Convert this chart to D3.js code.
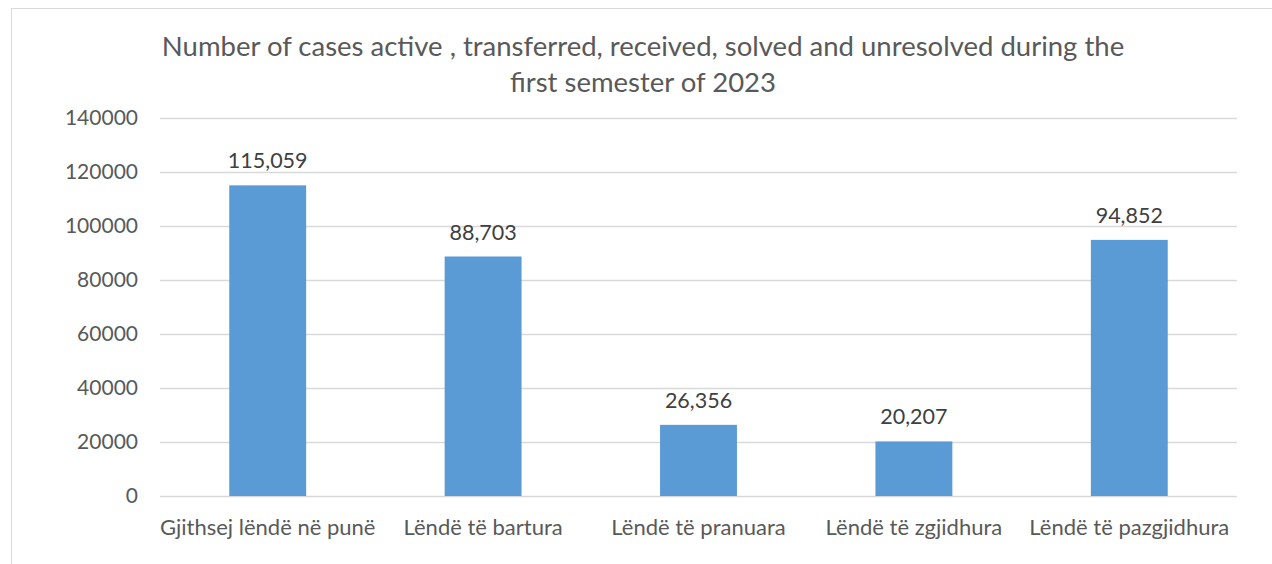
<!DOCTYPE html>
<html><head><meta charset="utf-8">
<script src="https://cdn.jsdelivr.net/npm/d3@7"></script>
<style>body{margin:0;background:#fff;} text{font-family:Lato,"Open Sans",sans-serif;}</style>
</head><body>
<svg id="c" width="1272" height="564"></svg>
<script>
const categories = ["Gjithsej lëndë në punë","Lëndë të bartura","Lëndë të pranuara","Lëndë të zgjidhura","Lëndë të pazgjidhura"];
const values = [115059, 88703, 26356, 20207, 94852];
const valueLabels = ["115,059","88,703","26,356","20,207","94,852"];
const yTicks = [0,20000,40000,60000,80000,100000,120000,140000];
const titleLines = ["Number of cases active , transferred, received, solved and unresolved during the","first semester of 2023"];

const svg = d3.select("#c");
const textColor = "#595959";
svg.append("rect").attr("x",11.5).attr("y",8.5).attr("width",1300).attr("height",600)
  .attr("fill","#fff").attr("stroke","#D9D9D9").attr("stroke-width",1);

const pLeft=160, pRight=1237, pTop=118, pBottom=496;
const x = d3.scaleBand().domain(categories).range([pLeft,pRight]).paddingInner(0.643).paddingOuter(0.3215);
const y = d3.scaleLinear().domain([0,140000]).range([pBottom,pTop]);

const yAxis = svg.append("g").attr("transform",`translate(${pLeft},0)`)
  .call(d3.axisLeft(y).tickValues(yTicks).tickSize(-(pRight-pLeft)).tickPadding(22).tickFormat(d3.format("d")));
yAxis.select(".domain").remove();
yAxis.selectAll("line").attr("stroke","#D9D9D9").attr("stroke-width",1.5);
yAxis.selectAll("text").attr("fill",textColor).attr("font-size",21).attr("font-family","Lato");

svg.selectAll("rect.bar").data(values).join("rect").attr("class","bar")
  .attr("x",(d,i)=>x(categories[i])).attr("width",x.bandwidth())
  .attr("y",d=>y(d)).attr("height",d=>pBottom-y(d)).attr("fill","#5B9BD5");

svg.selectAll("text.val").data(values).join("text").attr("class","val")
  .attr("x",(d,i)=>x(categories[i])+x.bandwidth()/2).attr("y",d=>y(d)-17)
  .attr("text-anchor","middle").attr("font-size",21.5).attr("fill","#404040")
  .text((d,i)=>valueLabels[i]);

const xAxis = svg.append("g").attr("transform",`translate(0,${pBottom})`)
  .call(d3.axisBottom(x).tickSize(0).tickPadding(23));
xAxis.select(".domain").remove();
xAxis.selectAll("text").attr("fill",textColor).attr("font-size",22).attr("font-family","Lato");

svg.append("text").attr("x",643).attr("y",56).attr("text-anchor","middle")
  .attr("font-size",27.5).attr("fill",textColor)
  .selectAll("tspan").data(titleLines).join("tspan")
  .attr("x",643).attr("dy",(d,i)=>i?36:0).text(d=>d);
</script>
</body></html>
